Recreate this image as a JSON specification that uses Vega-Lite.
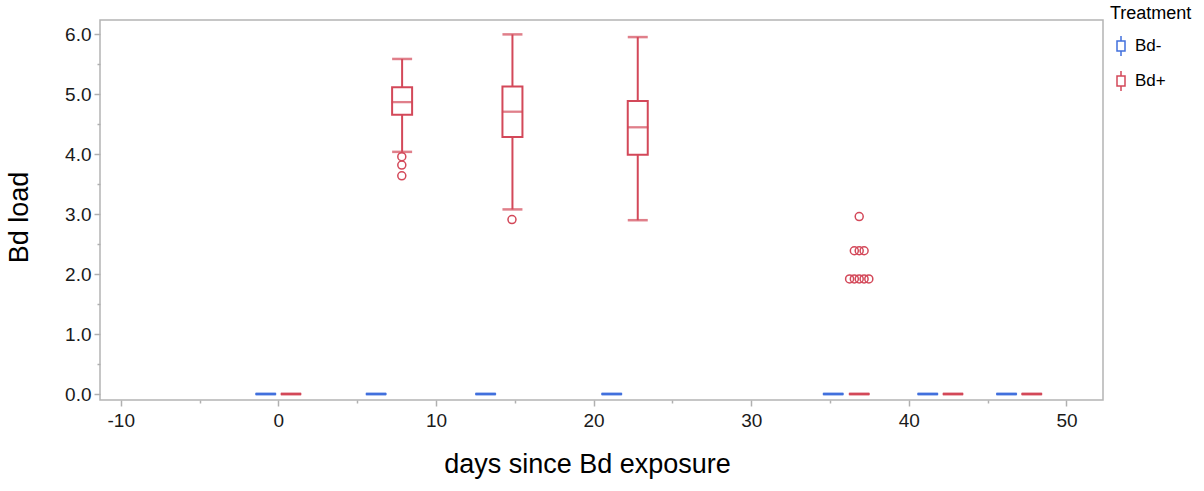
{
  "$schema": "https://vega.github.io/schema/vega-lite/v6.json",
  "width": 1003,
  "height": 380,
  "autosize": {"type": "none"},
  "padding": {"left": 100, "top": 20, "right": 101, "bottom": 91},
  "background": "white",
  "config": {
    "font": "Liberation Sans",
    "view": {"stroke": "#b4b4b4", "strokeWidth": 1.5},
    "point": {"size": 64},
    "axis": {
      "domain": false,
      "grid": false,
      "labelFont": "Liberation Sans",
      "labelFontSize": 19,
      "labelColor": "#1a1a1a",
      "tickColor": "#b0b0b0",
      "tickWidth": 1.5,
      "titleFont": "Liberation Sans",
      "titleFontSize": 27,
      "titleFontWeight": "normal",
      "titleColor": "#000000"
    },
    "legend": {
      "titleFont": "Liberation Sans",
      "labelFont": "Liberation Sans"
    }
  },
  "datasets": {
    "boxes": [
      {"day": -0.8, "treatment": "Bd-", "lower": 0, "q1": 0, "median": 0, "q3": 0, "upper": 0},
      {"day": 0.8, "treatment": "Bd+", "lower": 0, "q1": 0, "median": 0, "q3": 0, "upper": 0},
      {"day": 6.2, "treatment": "Bd-", "lower": 0, "q1": 0, "median": 0, "q3": 0, "upper": 0},
      {"day": 7.85, "treatment": "Bd+", "lower": 4.04, "q1": 4.66, "median": 4.87, "q3": 5.12, "upper": 5.59},
      {"day": 13.15, "treatment": "Bd-", "lower": 0, "q1": 0, "median": 0, "q3": 0, "upper": 0},
      {"day": 14.85, "treatment": "Bd+", "lower": 3.08, "q1": 4.29, "median": 4.71, "q3": 5.13, "upper": 6.0},
      {"day": 21.15, "treatment": "Bd-", "lower": 0, "q1": 0, "median": 0, "q3": 0, "upper": 0},
      {"day": 22.8, "treatment": "Bd+", "lower": 2.9, "q1": 3.99, "median": 4.45, "q3": 4.89, "upper": 5.955},
      {"day": 35.2, "treatment": "Bd-", "lower": 0, "q1": 0, "median": 0, "q3": 0, "upper": 0},
      {"day": 36.85, "treatment": "Bd+", "lower": 0, "q1": 0, "median": 0, "q3": 0, "upper": 0},
      {"day": 41.2, "treatment": "Bd-", "lower": 0, "q1": 0, "median": 0, "q3": 0, "upper": 0},
      {"day": 42.8, "treatment": "Bd+", "lower": 0, "q1": 0, "median": 0, "q3": 0, "upper": 0},
      {"day": 46.2, "treatment": "Bd-", "lower": 0, "q1": 0, "median": 0, "q3": 0, "upper": 0},
      {"day": 47.8, "treatment": "Bd+", "lower": 0, "q1": 0, "median": 0, "q3": 0, "upper": 0}
    ],
    "outliers": [
      {"day": 7.83, "treatment": "Bd+", "load": 3.96},
      {"day": 7.83, "treatment": "Bd+", "load": 3.82},
      {"day": 7.83, "treatment": "Bd+", "load": 3.64},
      {"day": 14.82, "treatment": "Bd+", "load": 2.91},
      {"day": 36.85, "treatment": "Bd+", "load": 2.96},
      {"day": 36.54, "treatment": "Bd+", "load": 2.39},
      {"day": 36.85, "treatment": "Bd+", "load": 2.39},
      {"day": 37.16, "treatment": "Bd+", "load": 2.39},
      {"day": 36.24, "treatment": "Bd+", "load": 1.92},
      {"day": 36.54, "treatment": "Bd+", "load": 1.92},
      {"day": 36.85, "treatment": "Bd+", "load": 1.92},
      {"day": 37.16, "treatment": "Bd+", "load": 1.92},
      {"day": 37.46, "treatment": "Bd+", "load": 1.92}
    ]
  },
  "layer": [
    {
      "data": {"name": "outliers"},
      "mark": {"type": "point", "filled": false, "strokeWidth": 1.5, "opacity": 1},
      "encoding": {
        "x": {
          "field": "day", "type": "quantitative",
          "scale": {"domain": [-11, 52], "nice": false, "zero": false},
          "axis": {
            "values": [-10, 0, 10, 20, 30, 40, 50],
            "labelExpr": "'' + datum.value",
            "tickSize": 6,
            "labelPadding": 5,
            "title": "days since Bd exposure",
            "titlePadding": 21,
            "titleX": 487,
            "orient": "bottom"
          }
        },
        "y": {
          "field": "load", "type": "quantitative",
          "scale": {"domain": [-0.1, 6.24], "nice": false, "zero": false},
          "axis": {
            "values": [0, 1, 2, 3, 4, 5, 6],
            "format": ".1f",
            "tickSize": 6,
            "labelPadding": 3,
            "title": "Bd load",
            "titlePadding": 31,
            "titleY": 197,
            "orient": "left"
          }
        },
        "stroke": {
          "field": "treatment", "type": "nominal",
          "scale": {"domain": ["Bd-", "Bd+"], "range": ["#4270dd", "#d34859"]},
          "legend": {
            "title": "Treatment",
            "orient": "none",
            "legendX": 1010,
            "legendY": -15,
            "padding": 0,
            "titleFontSize": 18,
            "titleFontWeight": "normal",
            "titleColor": "#000000",
            "titlePadding": 12,
            "labelFontSize": 17,
            "labelColor": "#000000",
            "labelOffset": 3,
            "symbolType": "M0,-1V-0.5M0,0.5V1M-0.4,-0.5H0.4V0.5H-0.4Z",
            "symbolSize": 400,
            "symbolStrokeWidth": 1.5,
            "rowPadding": 9,
            "encode": {
              "symbols": {
                "update": {"size": {"value": 400}}
              }
            }
          }
        }
      }
    },
    {
      "data": {"name": "boxes"},
      "mark": {"type": "bar", "orient": "vertical", "width": 20, "filled": false, "strokeWidth": 2},
      "encoding": {
        "x": {
          "field": "day", "type": "quantitative",
          "axis": {
            "values": [-5, 5, 15, 25, 35, 45],
            "labels": false,
            "tickSize": 3,
            "title": null,
            "orient": "bottom"
          }
        },
        "y": {
          "field": "q1", "type": "quantitative",
          "axis": {
            "values": [0.5, 1.5, 2.5, 3.5, 4.5, 5.5],
            "labels": false,
            "tickSize": 3,
            "title": null,
            "orient": "left"
          }
        },
        "y2": {"field": "q3"},
        "stroke": {"field": "treatment", "type": "nominal", "legend": null}
      }
    },
    {
      "data": {"name": "boxes"},
      "mark": {"type": "rule", "strokeWidth": 2},
      "encoding": {
        "x": {"field": "day", "type": "quantitative", "axis": null},
        "y": {"field": "lower", "type": "quantitative", "axis": null},
        "y2": {"field": "q1"},
        "stroke": {"field": "treatment", "type": "nominal", "legend": null}
      }
    },
    {
      "data": {"name": "boxes"},
      "mark": {"type": "rule", "strokeWidth": 2},
      "encoding": {
        "x": {"field": "day", "type": "quantitative", "axis": null},
        "y": {"field": "q3", "type": "quantitative", "axis": null},
        "y2": {"field": "upper"},
        "stroke": {"field": "treatment", "type": "nominal", "legend": null}
      }
    },
    {
      "data": {"name": "boxes"},
      "mark": {"type": "tick", "orient": "horizontal", "size": 18, "thickness": 0.5, "filled": false, "strokeWidth": 2},
      "encoding": {
        "x": {"field": "day", "type": "quantitative", "axis": null},
        "y": {"field": "lower", "type": "quantitative", "axis": null},
        "stroke": {"field": "treatment", "type": "nominal", "legend": null}
      }
    },
    {
      "data": {"name": "boxes"},
      "mark": {"type": "tick", "orient": "horizontal", "size": 18, "thickness": 0.5, "filled": false, "strokeWidth": 2},
      "encoding": {
        "x": {"field": "day", "type": "quantitative", "axis": null},
        "y": {"field": "upper", "type": "quantitative", "axis": null},
        "stroke": {"field": "treatment", "type": "nominal", "legend": null}
      }
    },
    {
      "data": {"name": "boxes"},
      "mark": {"type": "tick", "orient": "horizontal", "size": 19, "thickness": 0.3, "filled": false, "strokeWidth": 2},
      "encoding": {
        "x": {"field": "day", "type": "quantitative", "axis": null},
        "y": {"field": "median", "type": "quantitative", "axis": null},
        "stroke": {"field": "treatment", "type": "nominal", "legend": null}
      }
    }
  ],
  "resolve": {"axis": {"x": "independent", "y": "independent"}}
}
